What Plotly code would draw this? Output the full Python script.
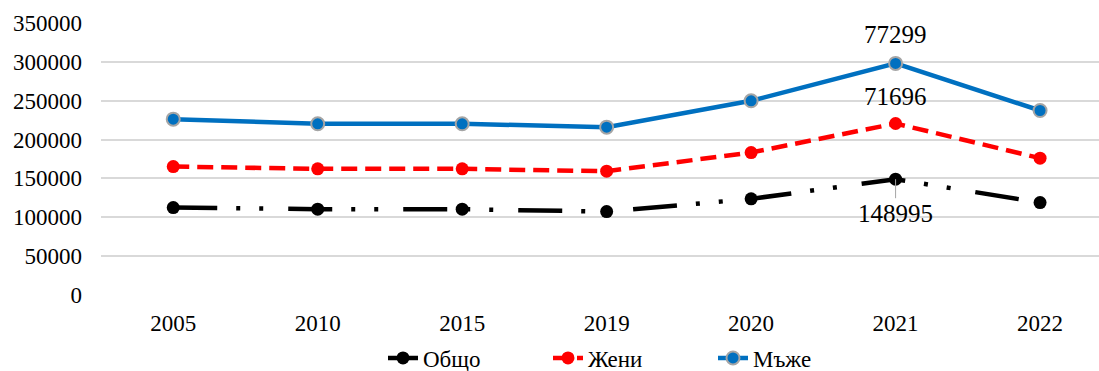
import plotly.graph_objects as go

# Years and stacked series (persons)
years = ["2005", "2010", "2015", "2019", "2020", "2021", "2022"]
obshto = [112500, 110400, 110400, 107300, 123700, 148995, 118900]
zheni = [52800, 51900, 51900, 52000, 59600, 71696, 57200]
mazhe = [61000, 58000, 58000, 56700, 66600, 77299, 61300]

y_ticks = [0, 50000, 100000, 150000, 200000, 250000, 300000, 350000]

FONT = "Liberation Serif, Times New Roman, serif"
fig = go.Figure()

fig.add_trace(go.Scatter(
    x=years, y=obshto, name="Общо", stackgroup="one", fill="none",
    mode="lines+markers",
    line=dict(color="#000000", width=4.5, dash="44px,19px,4px,19px,4px,25px"),
    marker=dict(size=13, color="#000000"),
))
fig.add_trace(go.Scatter(
    x=years, y=zheni, name="Жени", stackgroup="one", fill="none",
    mode="lines+markers",
    line=dict(color="#ff0000", width=4.5, dash="16px,8px"),
    marker=dict(size=13, color="#ff0000"),
))
fig.add_trace(go.Scatter(
    x=years, y=mazhe, name="Мъже", stackgroup="one", fill="none",
    mode="lines+markers",
    line=dict(color="#0070c0", width=4.5),
    marker=dict(size=13, color="#0070c0", line=dict(color="#a5a5a5", width=2)),
))

# Value labels for 2021 (category axis: annotation x is the category index)
i = years.index("2021")
lvl1 = obshto[i]
lvl2 = obshto[i] + zheni[i]
lvl3 = lvl2 + mazhe[i]
lab_font = dict(family=FONT, size=25, color="#000")
fig.add_annotation(x=i, y=lvl3, text=str(mazhe[i]), showarrow=False,
                   yshift=29, font=lab_font)
fig.add_annotation(x=i, y=lvl2, text=str(zheni[i]), showarrow=False,
                   yshift=27, font=lab_font)
fig.add_annotation(x=i, y=lvl1, text=str(obshto[i]), showarrow=True,
                   ax=0, ay=34, arrowhead=0, arrowwidth=1, arrowcolor="#a5a5a5",
                   font=lab_font)

fig.update_layout(
    width=1099, height=371,
    margin=dict(l=101, r=0, t=23, b=76, autoexpand=False),
    paper_bgcolor="white", plot_bgcolor="white",
    font=dict(family=FONT, size=23, color="#000"),
    showlegend=True,
    legend=dict(orientation="h", xref="container", yref="container",
                x=383 / 1099, xanchor="left", y=0.035, yanchor="middle",
                bgcolor="rgba(0,0,0,0)",
                font=dict(family=FONT, size=23), entrywidth=120,
                entrywidthmode="pixels", traceorder="normal"),
)
fig.update_xaxes(
    type="category", range=[-0.5, 6.408], showgrid=False, showline=False,
    tickfont=dict(family=FONT, size=23), ticks="", ticklabelstandoff=12,
)
fig.update_yaxes(
    range=[0, 350000], tickvals=y_ticks, ticktext=[str(v) for v in y_ticks],
    showgrid=True, gridcolor="#d9d9d9", gridwidth=1.5, zeroline=False,
    showline=False, ticks="", tickfont=dict(family=FONT, size=23),
    ticklabelstandoff=18,
)

fig.write_html("out.html")
